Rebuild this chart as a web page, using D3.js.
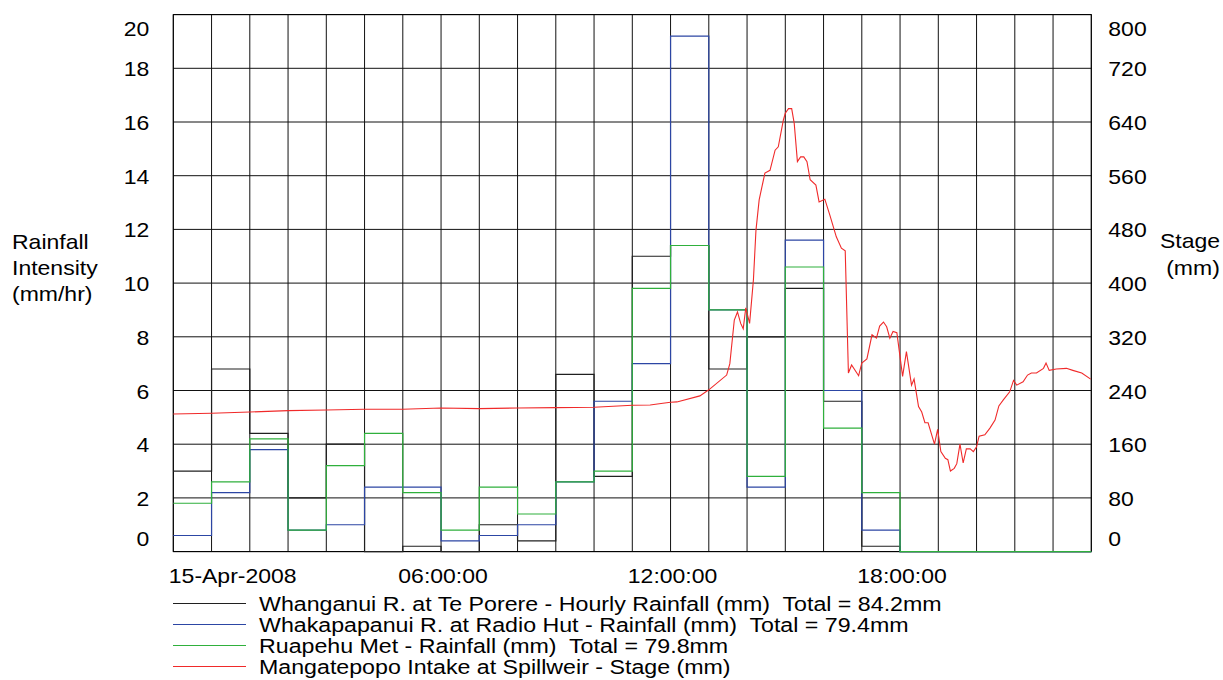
<!DOCTYPE html>
<html><head><meta charset="utf-8">
<script src="https://cdn.jsdelivr.net/npm/d3@7"></script>
<style>
html,body{margin:0;padding:0;background:#fff;}
svg{display:block;font-family:"Liberation Sans",Arial,sans-serif;}
</style></head><body>
<svg id="chart" width="1223" height="680"></svg>
<script>
// ---------- DATA ----------
const hourTimes = ["00:00","01:00","02:00","03:00","04:00","05:00","06:00","07:00","08:00","09:00","10:00","11:00",
                   "12:00","13:00","14:00","15:00","16:00","17:00","18:00","19:00","20:00","21:00","22:00","23:00"];
const whanganuiRain   = [3.0,6.8,4.4,2.0,4.0,0.0,0.2,0.0,1.0,0.4,6.6,2.8,11.0,11.4,6.8,8.0,9.8,5.6,0.2,0,0,0,0,0];
const whakapapanuiRain= [0.6,2.2,3.8,0.8,1.0,2.4,2.4,0.4,0.6,1.0,2.6,5.6,7.0,19.2,9.0,2.4,11.6,6.0,0.8,0,0,0,0,0];
const ruapehuRain     = [1.8,2.6,4.2,0.8,3.2,4.4,2.2,0.8,2.4,1.4,2.6,3.0,9.8,11.4,9.0,2.8,10.6,4.6,2.2,0,0,0,0,0];

const stageTimes = ["00:00","01:00","02:00","03:00","04:00","05:00","06:00","07:00","08:00","09:00","10:00","11:00",
  "12:00","12:28","12:48","13:00","13:10","13:46","14:00","14:28","14:33","14:40","14:45","14:50","14:54","14:58",
  "15:04","15:10","15:14","15:19","15:28","15:36","15:44","15:49","15:57","16:00","16:05","16:10","16:14","16:19",
  "16:24","16:29","16:34","16:39","16:48","16:53","17:02","17:10","17:20","17:28","17:34","17:39","17:44","17:55",
  "18:00","18:08","18:16","18:23","18:28","18:34","18:39","18:44","18:49","18:55","19:04","19:10","19:18","19:22",
  "19:29","19:34","19:39","19:44","19:54","19:59","20:04","20:11","20:15","20:19","20:25","20:29","20:34","20:39",
  "20:44","20:50","20:55","21:00","21:04","21:13","21:21","21:29","21:35","21:42","21:52","21:58","22:03","22:13",
  "22:20","22:26","22:34","22:45","22:49","22:54","23:05","23:21","23:31","23:45","23:59"];
const stageValues = [205,206,208,210,211,212,212,214,213,214,214.5,215,
  218,218.5,221,222.5,223,232,241,263,280,345,357,340,332,363,
  340,405,479,524,564,568,598,603,643,653,660,660,638,581,
  588,588,581,554,546,521,525,501,469,452,448,266,278,262,
  281,287,323,318,336,342,335,318,328,326,261,298,248,257,
  216,208,192,192,160,182,149,139,137,120,124,131,160,132,
  153,153,149,156,172,174,184,196,217,226,238,255,248,253,
  263,266,266,273,281,270,272,273,270,266,257];

const leftTicks  = [0,2,4,6,8,10,12,14,16,18,20];
const rightTicks = [0,80,160,240,320,400,480,560,640,720,800];
const xTickTimes  = ["00:00","06:00","12:00","18:00"];
const xTickLabels = ["15-Apr-2008","06:00:00","12:00:00","18:00:00"];

const seriesNames = [
  "Whanganui R. at Te Porere - Hourly Rainfall (mm)  Total = 84.2mm",
  "Whakapapanui R. at Radio Hut - Rainfall (mm)  Total = 79.4mm",
  "Ruapehu Met - Rainfall (mm)  Total = 79.8mm",
  "Mangatepopo Intake at Spillweir - Stage (mm)"
];
const seriesColors = ["#202020","#2c46a4","#2fb03c","#f02a2a"];

// ---------- SETUP ----------
const parse = s => d3.timeParse("%Y-%m-%d %H:%M")("2008-04-15 " + s);
const svg = d3.select("#chart");
const L = 173.3, R = 1091.3, T = 14.6, B = 551.6;
const SX = 1.15;

const x  = d3.scaleTime().domain([parse("00:00"), new Date(2008,3,16,0,0)]).range([L, R]);
const yL = d3.scaleLinear().domain([0,20]).range([B, T]);
const yR = d3.scaleLinear().domain([0,800]).range([B, T]);

// gridlines
const grid = svg.append("g").attr("stroke","#111").attr("stroke-width",1);
grid.selectAll("line.h").data(leftTicks).join("line")
  .attr("x1",L).attr("x2",R).attr("y1",d=>yL(d)).attr("y2",d=>yL(d));
const gridHours = hourTimes.map(parse).concat([new Date(2008,3,16,0,0)]);
grid.selectAll("line.v").data(gridHours).join("line")
  .attr("y1",T).attr("y2",B).attr("x1",d=>x(d)).attr("x2",d=>x(d));
svg.append("rect").attr("x",L).attr("y",T).attr("width",R-L).attr("height",B-T)
  .attr("fill","none").attr("stroke","#000").attr("stroke-width",1);

// axes
const ax = svg.append("g").attr("transform",`translate(${L},0)`)
  .call(d3.axisLeft(yL).tickValues(leftTicks).tickSize(0).tickFormat(d3.format("d")));
ax.select(".domain").remove();
ax.selectAll("text").attr("x",0).attr("dy",null).attr("fill","#000")
  .attr("font-size",20).attr("text-anchor","end")
  .attr("transform", d => `translate(-24,${7.5 + (d===20?13.4:d===0?-13.6:0)}) scale(${SX},1)`);

const axr = svg.append("g").attr("transform",`translate(${R},0)`)
  .call(d3.axisRight(yR).tickValues(rightTicks).tickSize(0).tickFormat(d3.format("d")));
axr.select(".domain").remove();
axr.selectAll("text").attr("x",0).attr("dy",null).attr("fill","#000")
  .attr("font-size",20).attr("text-anchor","start")
  .attr("transform", d => `translate(17,${7.5 + (d===800?13.4:d===0?-13.6:0)}) scale(${SX},1)`);

const axb = svg.append("g").attr("transform",`translate(0,${B})`)
  .call(d3.axisBottom(x).tickValues(xTickTimes.map(parse)).tickSize(0)
    .tickFormat((d,i)=>xTickLabels[i]));
axb.select(".domain").remove();
axb.selectAll("text").attr("x",0).attr("y",0).attr("dy",null).attr("fill","#000")
  .attr("font-size",20).attr("text-anchor","start")
  .attr("transform", `translate(-5,31) scale(${SX},1)`);

// axis titles
const lt = ["Rainfall","Intensity","(mm/hr)"];
svg.append("g").selectAll("text").data(lt).join("text")
  .attr("font-size",20).attr("fill","#000")
  .attr("transform",(d,i)=>`translate(12,${249+i*26}) scale(${SX},1)`).text(d=>d);
const rt = ["Stage","(mm)"];
svg.append("g").selectAll("text").data(rt).join("text")
  .attr("font-size",20).attr("fill","#000").attr("text-anchor","middle")
  .attr("transform",(d,i)=>`translate(${1190+i*3},${248+i*27}) scale(${SX},1)`).text(d=>d);

// rainfall step lines
const stepLine = d3.line().x(d=>x(d[0])).y(d=>yL(d[1])).curve(d3.curveStepAfter);
function stepData(vals){
  const pts = hourTimes.map((t,i)=>[parse(t), vals[i]]);
  pts.push([new Date(2008,3,16,0,0), vals[vals.length-1]]);
  return pts;
}
[whanganuiRain, whakapapanuiRain, ruapehuRain].forEach((vals,i)=>{
  svg.append("path").datum(stepData(vals)).attr("d",stepLine)
    .attr("fill","none").attr("stroke",seriesColors[i]).attr("stroke-width",1.2);
});

// stage line
const stageLine = d3.line().x(d=>x(d[0])).y(d=>yR(d[1]));
svg.append("path").datum(stageTimes.map((t,i)=>[parse(t), stageValues[i]]))
  .attr("d",stageLine).attr("fill","none").attr("stroke",seriesColors[3]).attr("stroke-width",1.1);

// legend
const lg = svg.append("g");
seriesNames.forEach((name,i)=>{
  const yy = 603.5 + i*21;
  lg.append("line").attr("x1",173).attr("x2",246).attr("y1",yy).attr("y2",yy)
    .attr("stroke",seriesColors[i]).attr("stroke-width",1.2);
  lg.append("text").attr("font-size",20).attr("fill","#000").style("white-space","pre")
    .attr("transform",`translate(259,${yy+7}) scale(1.16,1)`).text(name);
});
</script>
</body></html>
